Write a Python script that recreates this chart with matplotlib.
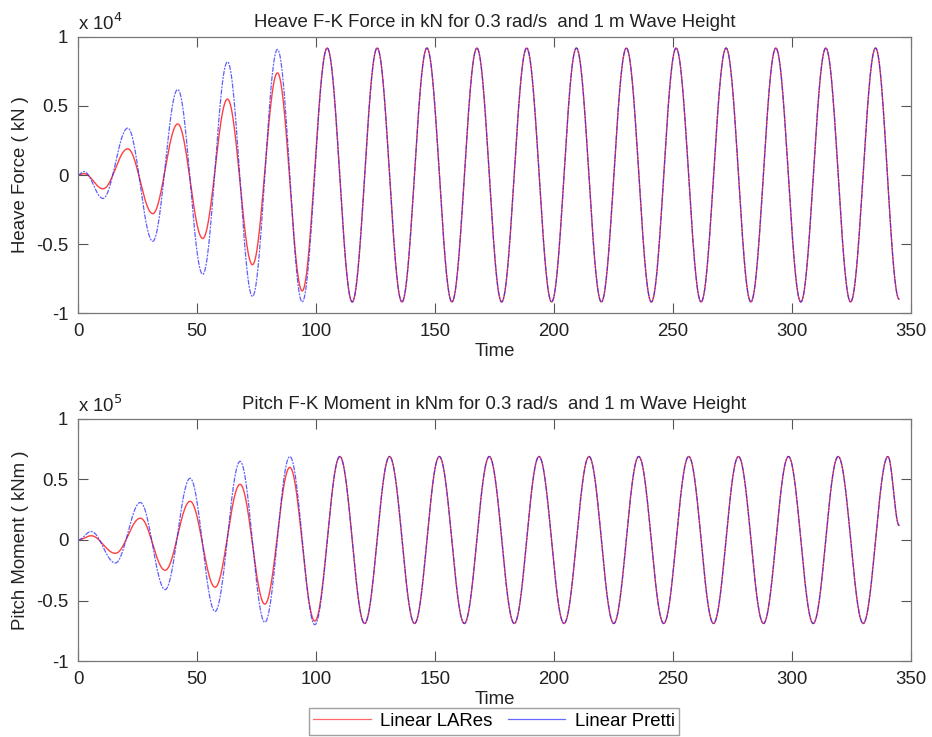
import numpy as np
import matplotlib
matplotlib.use("Agg")
import matplotlib.pyplot as plt
from matplotlib.lines import Line2D

plt.rcParams["font.family"] = ["Liberation Sans", "DejaVu Sans"]

# extrema (time, value); values in units of the axis multiplier
heave_times = [0, 2.5, 10.5, 20.9, 31.4, 41.9, 52.4, 62.8, 73.3, 83.8, 94.2,
               104.7, 115.2, 125.7, 136.1, 146.6, 157.1, 167.6, 178.0, 188.5,
               199.0, 209.4, 219.9, 230.4, 240.9, 251.3, 261.8, 272.3, 282.7,
               293.2, 303.7, 314.2, 324.6, 335.1, 345.0]
heave_lares = [0, 0.01, -0.10, 0.19, -0.28, 0.37, -0.46, 0.55, -0.65, 0.74, -0.84,
               0.92, -0.92, 0.92, -0.92, 0.92, -0.92, 0.92, -0.92, 0.92,
               -0.92, 0.92, -0.92, 0.92, -0.92, 0.92, -0.92, 0.92, -0.92,
               0.92, -0.92, 0.92, -0.92, 0.92, -0.90]
heave_pretti = [0, 0.025, -0.17, 0.34, -0.48, 0.62, -0.72, 0.82, -0.88, 0.91, -0.92,
                0.92, -0.92, 0.92, -0.92, 0.92, -0.92, 0.92, -0.92, 0.92,
                -0.92, 0.92, -0.92, 0.92, -0.92, 0.92, -0.92, 0.92, -0.92,
                0.92, -0.92, 0.92, -0.92, 0.92, -0.90]

pitch_times = [0, 5.5, 15.7, 26.2, 36.6, 47.1, 57.6, 68.1, 78.5, 89.0, 99.5,
               110.0, 120.4, 130.9, 141.4, 151.8, 162.3, 172.8, 183.3, 193.7,
               204.2, 214.7, 225.1, 235.6, 246.1, 256.6, 267.0, 277.5, 288.0,
               298.5, 308.9, 319.4, 329.9, 340.3, 345.0]
pitch_lares = [0, 0.035, -0.11, 0.18, -0.25, 0.32, -0.39, 0.46, -0.53, 0.60, -0.67,
               0.69, -0.69, 0.69, -0.69, 0.69, -0.69, 0.69, -0.69, 0.69,
               -0.69, 0.69, -0.69, 0.69, -0.69, 0.69, -0.69, 0.69, -0.69,
               0.69, -0.69, 0.69, -0.69, 0.69, 0.12]
pitch_pretti = [0, 0.07, -0.19, 0.31, -0.41, 0.51, -0.59, 0.65, -0.68, 0.69, -0.70,
                0.69, -0.69, 0.69, -0.69, 0.69, -0.69, 0.69, -0.69, 0.69,
                -0.69, 0.69, -0.69, 0.69, -0.69, 0.69, -0.69, 0.69, -0.69,
                0.69, -0.69, 0.69, -0.69, 0.69, 0.12]

x_ticks = [0, 50, 100, 150, 200, 250, 300, 350]
y_ticks = [-1, -0.5, 0, 0.5, 1]
y_ticklabels = ["-1", "-0.5", "0", "0.5", "1"]

RED = "#ff2a2a"
BLUE = "#2a2aff"


def smooth_through(times, values, n=60):
    # half-cosine segments between consecutive extrema
    xs, ys = [], []
    for i in range(len(times) - 1):
        t0, t1 = times[i], times[i + 1]
        v0, v1 = values[i], values[i + 1]
        tt = np.linspace(t0, t1, n, endpoint=False)
        xs.append(tt)
        ys.append(v0 + (v1 - v0) * (1 - np.cos(np.pi * (tt - t0) / (t1 - t0))) / 2)
    xs.append([times[-1]])
    ys.append([values[-1]])
    return np.concatenate(xs), np.concatenate(ys)


fig = plt.figure(figsize=(9.32, 7.37), dpi=100)
ax1 = fig.add_axes([0.0837, 0.5753, 0.8938, 0.3745])
ax2 = fig.add_axes([0.0837, 0.1031, 0.8938, 0.3284])

panels = [
    (ax1, heave_times, heave_lares, heave_pretti, "4",
     "Heave F-K Force in kN for 0.3 rad/s  and 1 m Wave Height", "Heave Force ( kN )"),
    (ax2, pitch_times, pitch_lares, pitch_pretti, "5",
     "Pitch F-K Moment in kNm for 0.3 rad/s  and 1 m Wave Height", "Pitch Moment ( kNm )"),
]

fs = 13.4
for ax, times, lares, pretti, power, title, ylabel in panels:
    x, y = smooth_through(times, lares)
    ax.plot(x, y, color=RED, lw=1.0, alpha=0.9)
    x, y = smooth_through(times, pretti)
    ax.plot(x, y, color=BLUE, lw=0.9, alpha=0.75, ls=(0, (4, 1, 1.5, 1)))
    ax.set_xlim(0, 350)
    ax.set_ylim(-1, 1)
    ax.set_xticks(x_ticks)
    ax.set_yticks(y_ticks)
    ax.set_yticklabels(y_ticklabels)
    ax.tick_params(direction="in", length=7, top=True, right=True, labelsize=fs,
                   color="#555555", labelcolor="#222222", pad=7)
    for s in ax.spines.values():
        s.set_color("#777777")
        s.set_linewidth(0.9)
    ax.set_title(title, fontsize=fs, color="#222222", pad=7)
    ax.set_xlabel("Time", fontsize=fs, color="#222222", labelpad=2)
    ax.set_ylabel(ylabel, fontsize=fs, color="#222222", labelpad=5)
    ax.text(0.0, 1.012, r"x 10$^{%s}$" % power, transform=ax.transAxes,
            fontsize=fs, color="#222222", ha="left", va="bottom")

handles = [Line2D([], [], color=RED, lw=0.9, alpha=0.7),
           Line2D([], [], color=BLUE, lw=0.9, alpha=0.7)]
labels = ["Linear LARes", "Linear Pretti"]
leg = fig.legend(handles, labels, loc="upper center", bbox_to_anchor=(0.530, 0.039),
                 ncol=2, fontsize=fs, frameon=True, fancybox=False,
                 edgecolor="#888888", handlelength=3.1, columnspacing=0.8,
                 borderpad=0.25, handletextpad=0.5, borderaxespad=0)
leg.get_frame().set_linewidth(1.0)

fig.savefig("out.png", dpi=100)
